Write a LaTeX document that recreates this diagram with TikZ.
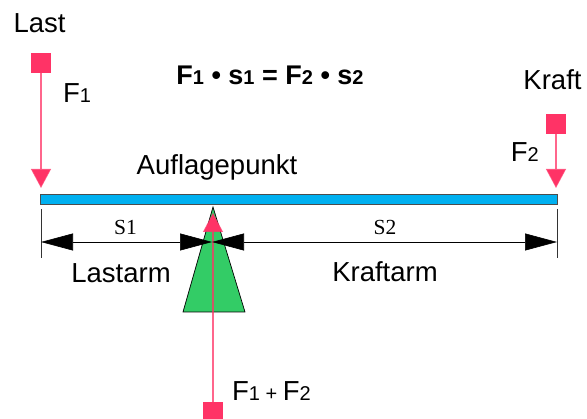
\documentclass[tikz,border=0pt]{standalone}
\usepackage{fontspec}
\setmainfont{Liberation Sans}
\newfontfamily\serifff{Liberation Serif}
\usetikzlibrary{arrows.meta}
\definecolor{forcered}{HTML}{FF3366}
\definecolor{beamblue}{HTML}{00B0F0}
\definecolor{fulgreen}{HTML}{33CC66}
\newcommand{\sub}[1]{{\fontsize{20}{20}\selectfont #1}}
\tikzset{
  lbl/.style={font=\fontsize{27.5}{32}\selectfont, inner sep=0pt, anchor=base},
  dimlbl/.style={font=\serifff\fontsize{21.5}{24}\selectfont, inner sep=0pt, anchor=base},
  sq/.style={fill=forcered, draw=none, minimum size=20pt, inner sep=0pt},
  force/.style={draw=forcered, draw opacity=0.75, line width=1.3pt, -{Triangle[length=19pt,width=20pt,fill=forcered,color=forcered]}},
  dimarrow/.style={line width=0.6pt, {Triangle[length=32pt,width=17pt]}-{Triangle[length=32pt,width=17pt]}},
  ext/.style={line width=0.6pt, draw=black!80},
}
\begin{document}
\begin{tikzpicture}[x=1pt,y=-1pt]
\useasboundingbox (0,0) rectangle (587,419);
% beam
\node[draw=black!70, fill=beamblue, line width=0.8pt, minimum width=517pt, minimum height=10pt, inner sep=0pt] (beam) at (298.5,199) {};
% fulcrum
\draw[fill=fulgreen, draw=black, line width=0.7pt] (213,207) -- (245,312) -- (183,312) -- cycle;
\coordinate (apex) at (213,207);
% load
\node[lbl] (last) at (39.5,33) {Last};
\node[sq] (sqL) at (41,63) {};
\coordinate (tipL) at (41,188);
\draw[force] (sqL.south) -- (tipL);
\node[lbl, anchor=base west] (f1) at (63,103) {F\sub{1}};
% force
\node[lbl] (kraft) at (552.5,90) {Kraft};
\node[sq] (sqK) at (556,124) {};
\coordinate (tipK) at (556,188);
\draw[force] (sqK.south) -- (tipK);
\node[lbl, anchor=base east] (f2) at (539,162) {F\sub{2}};
% formula
\node[lbl, font=\bfseries\fontsize{27}{32}\selectfont] (formula) at (270,85) {F\sub{1} • s\sub{1} = F\sub{2} • s\sub{2}};
\node[lbl] (auf) at (217,175) {Auflagepunkt};
% reaction
\node[sq] (sqR) at (213,412) {};
\coordinate (tipR) at (213,213);
\draw[force] (sqR.north) -- (tipR);
\node[lbl, anchor=base west] (f12) at (232,401) {F\sub{1 + }F\sub{2}};
% dimensions
\coordinate (dL) at (41,242);
\coordinate (dM) at (212,242);
\coordinate (dR) at (557,242);
\draw[ext] (41,209) -- (41,258);
\draw[ext] (557,209) -- (557,258);
\draw[dimarrow] (dL) -- (dM);
\draw[dimarrow] (dM) -- (dR);
\node[dimlbl] (s1) at (125.5,235) {S1};
\node[dimlbl] (s2) at (385,235) {S2};
\node[lbl] (lastarm) at (121,283) {Lastarm};
\node[lbl] (kraftarm) at (385,282) {Kraftarm};
\end{tikzpicture}
\end{document}
